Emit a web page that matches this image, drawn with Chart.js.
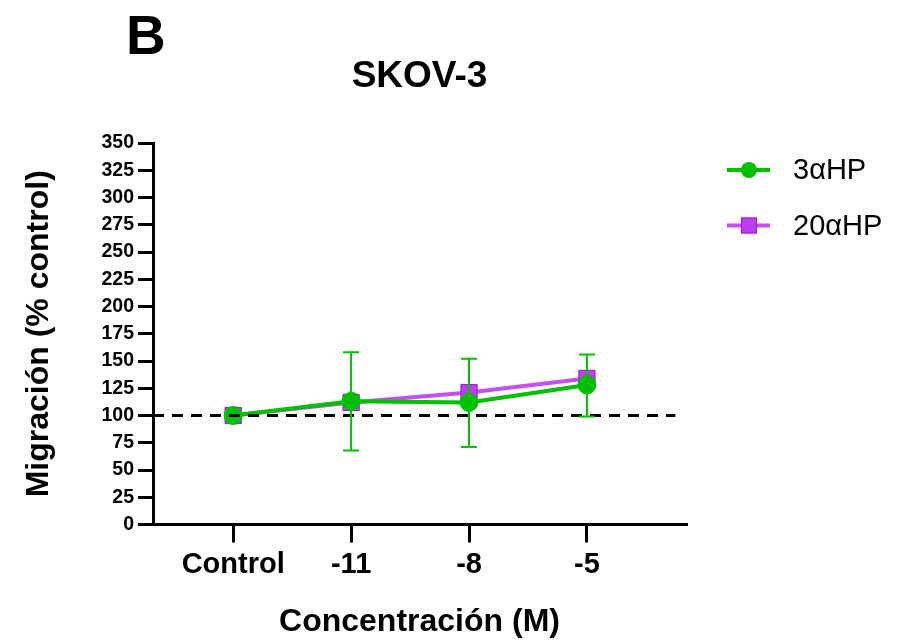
<!DOCTYPE html>
<html>
<head>
<meta charset="utf-8">
<script src="https://cdn.jsdelivr.net/npm/chart.js@4.4.1/dist/chart.umd.min.js"></script>
<style>
  html, body { margin: 0; padding: 0; background: #ffffff; }
  #wrap { width: 902px; height: 641px; position: relative; }
</style>
</head>
<body>
<div id="wrap"><canvas id="c" width="902" height="641"></canvas></div>
<script>
// ---- data ----
const categories = ['Control', '-11', '-8', '-5'];
const hp3 = [100, 113, 112, 128];
const hp3Low = [null, 68, 71, 99];
const hp3High = [null, 158, 152, 156];
const hp20 = [100, 112, 121, 134];
const seriesNames = ['3\u03B1HP', '20\u03B1HP'];
const yMin = 0, yMax = 350, yStep = 25;
const refValue = 100;
const xRange = [-0.68, 3.84];
const refSpan = [-0.68, 3.75];

const FONT = "'Liberation Sans', Arial, Helvetica, sans-serif";
const GREEN = '#00C000';
const PURPLE_LINE = '#C450F0';
const PURPLE_FILL = '#BB3FEA';
const PURPLE_EDGE = '#A018DC';

const toXY = arr => arr.map((v, i) => ({ x: i, y: v }));

const errorBars = {
  id: 'errorBars',
  afterDatasetsDraw(chart) {
    const { ctx, scales: { x, y } } = chart;
    ctx.save();
    ctx.strokeStyle = GREEN;
    ctx.lineWidth = 2;
    for (let i = 0; i < hp3.length; i++) {
      if (hp3Low[i] == null) continue;
      const px = x.getPixelForValue(i);
      const pLo = y.getPixelForValue(hp3Low[i]);
      const pHi = y.getPixelForValue(hp3High[i]);
      ctx.beginPath();
      ctx.moveTo(px, pLo); ctx.lineTo(px, pHi);
      ctx.moveTo(px - 8, pLo); ctx.lineTo(px + 8, pLo);
      ctx.moveTo(px - 8, pHi); ctx.lineTo(px + 8, pHi);
      ctx.stroke();
    }
    ctx.restore();
  }
};

const extras = {
  id: 'extras',
  afterDraw(chart) {
    const ctx = chart.ctx;
    ctx.save();
    // panel letter
    ctx.fillStyle = '#000';
    ctx.font = 'bold 55px ' + FONT;
    ctx.textAlign = 'left';
    ctx.textBaseline = 'alphabetic';
    ctx.fillText('B', 126, 54);
    // legend
    const items = chart.data.datasets.filter(d => d.label);
    items.forEach((d, i) => {
      const yc = 170 + i * 55.5;
      ctx.strokeStyle = d.borderColor;
      ctx.lineWidth = 4;
      ctx.beginPath();
      ctx.moveTo(727, yc); ctx.lineTo(770, yc);
      ctx.stroke();
      ctx.fillStyle = d.pointBackgroundColor;
      ctx.strokeStyle = d.pointBorderColor;
      ctx.lineWidth = 1;
      if (d.pointStyle === 'rect') {
        ctx.fillRect(741, yc - 8, 16, 16);
        ctx.strokeRect(741.5, yc - 7.5, 15, 15);
      } else {
        ctx.beginPath();
        ctx.arc(749, yc, 8, 0, Math.PI * 2);
        ctx.fill();
      }
      ctx.fillStyle = '#000';
      ctx.font = '29px ' + FONT;
      ctx.textBaseline = 'middle';
      ctx.fillText(d.label, 793, yc + 1);
    });
    ctx.restore();
  }
};

new Chart(document.getElementById('c'), {
  type: 'line',
  data: {
    datasets: [
      {
        label: seriesNames[0],
        data: toXY(hp3),
        borderColor: GREEN,
        backgroundColor: GREEN,
        pointBackgroundColor: GREEN,
        pointBorderColor: GREEN,
        borderWidth: 4,
        pointStyle: 'circle',
        pointRadius: 9,
        pointBorderWidth: 1,
        order: 1
      },
      {
        label: seriesNames[1],
        data: toXY(hp20),
        borderColor: PURPLE_LINE,
        backgroundColor: PURPLE_FILL,
        pointBackgroundColor: PURPLE_FILL,
        pointBorderColor: PURPLE_EDGE,
        borderWidth: 4,
        pointStyle: 'rect',
        pointRadius: 11.5,
        pointBorderWidth: 1,
        order: 2
      },
      {
        label: '',
        data: refSpan.map(v => ({ x: v, y: refValue })),
        borderColor: '#000',
        borderWidth: 3,
        borderDash: [11, 8],
        pointRadius: 0,
        order: 0
      }
    ]
  },
  options: {
    responsive: false,
    animation: false,
    devicePixelRatio: 1,
    layout: { padding: { left: 0, right: 216, top: 0, bottom: 0 } },
    plugins: {
      legend: { display: false },
      tooltip: { enabled: false },
      title: {
        display: true,
        text: 'SKOV-3',
        fullSize: false,
        color: '#000',
        font: { family: FONT, size: 37, weight: 'bold', lineHeight: 1.2 },
        padding: { top: 55, bottom: 43.6 }
      }
    },
    scales: {
      x: {
        type: 'linear',
        min: xRange[0],
        max: xRange[1],
        afterBuildTicks(scale) { scale.ticks = categories.map((c, i) => ({ value: i })); },
        afterFit(scale) { scale.height = 116.5; },
        ticks: {
          color: '#000',
          padding: 5,
          autoSkip: false,
          maxRotation: 0,
          font: { family: FONT, size: 29, weight: 'bold' },
          callback: v => categories[v]
        },
        grid: { drawOnChartArea: false, drawTicks: true, tickLength: 18, lineWidth: 3, color: '#000' },
        border: { display: true, color: '#000', width: 3 },
        title: {
          display: true,
          text: 'Concentraci\u00F3n (M)',
          color: '#000',
          font: { family: FONT, size: 32, weight: 'bold', lineHeight: 1.2 },
          padding: { top: 0, bottom: 0 }
        }
      },
      y: {
        type: 'linear',
        min: yMin,
        max: yMax,
        afterFit(scale) { scale.width = 153; },
        ticks: {
          stepSize: yStep,
          color: '#000',
          padding: 4,
          font: { family: FONT, size: 19.5, weight: 'bold' }
        },
        grid: { drawOnChartArea: false, drawTicks: true, tickLength: 15, lineWidth: 3, color: '#000' },
        border: { display: true, color: '#000', width: 3 },
        title: {
          display: true,
          text: 'Migraci\u00F3n (% control)',
          color: '#000',
          font: { family: FONT, size: 32, weight: 'bold', lineHeight: 1.2 },
          padding: { top: 20, bottom: 0 }
        }
      }
    }
  },
  plugins: [errorBars, extras]
});
</script>
</body>
</html>
